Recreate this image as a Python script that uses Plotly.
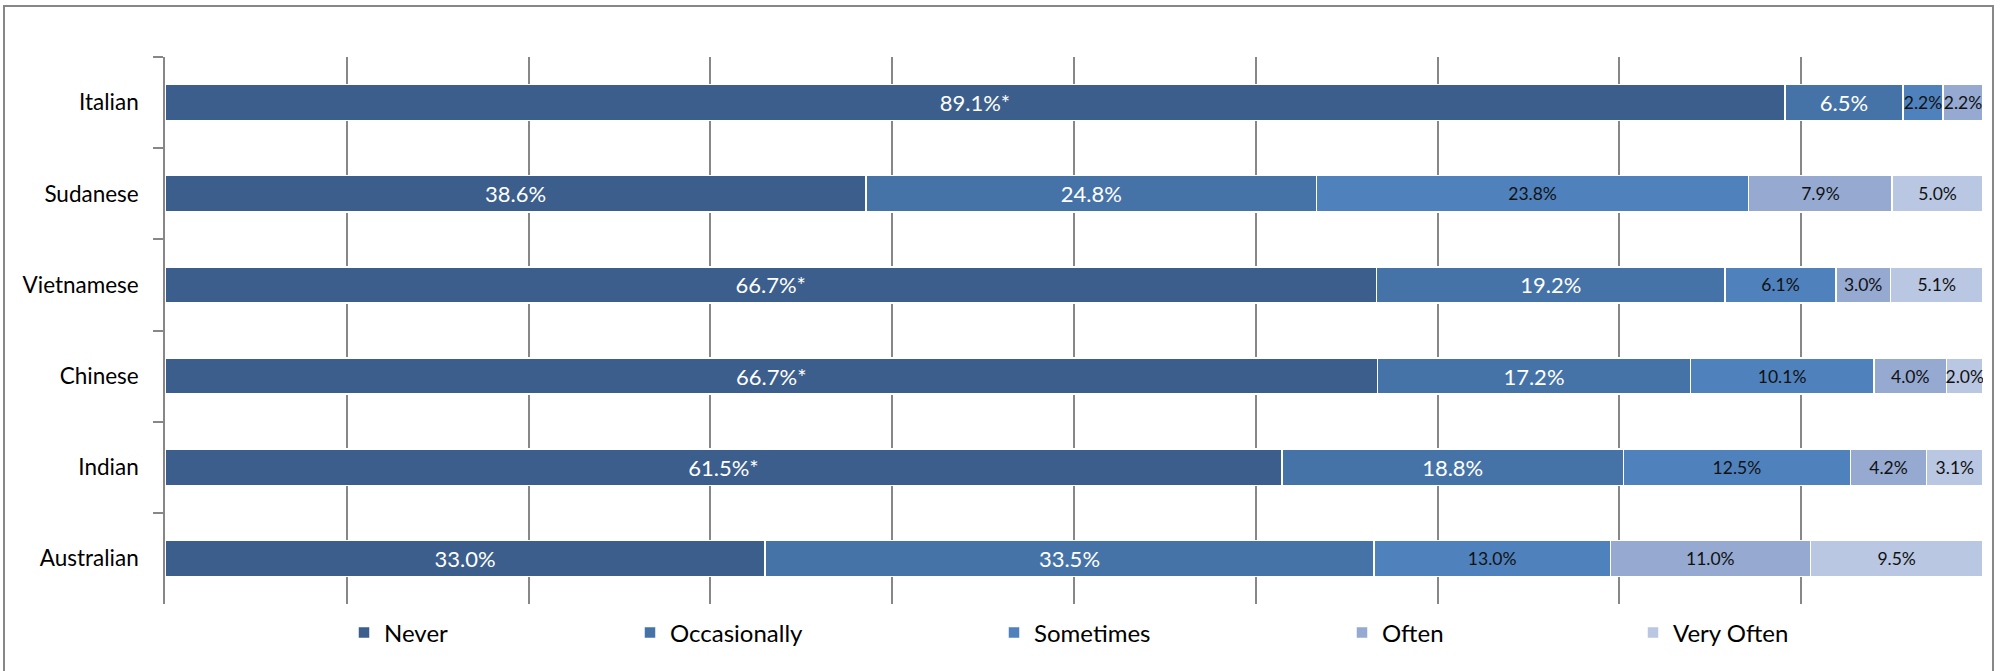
import plotly.graph_objects as go

# ---------------- data ----------------
groups = ["Italian", "Sudanese", "Vietnamese", "Chinese", "Indian", "Australian"]
series_names = ["Never", "Occasionally", "Sometimes", "Often", "Very Often"]
never = [89.1, 38.6, 66.7, 66.7, 61.5, 33.0]
occasionally = [6.5, 24.8, 19.2, 17.2, 18.8, 33.5]
sometimes = [2.2, 23.8, 6.1, 10.1, 12.5, 13.0]
often = [2.2, 7.9, 3.0, 4.0, 4.2, 11.0]
very_often = [0.0, 5.0, 5.1, 2.0, 3.1, 9.5]
never_significant = [True, False, True, True, True, False]  # "*" marks

# ---------------- styles ----------------
W, H = 2001, 671
L, R, T, B = 165, 18, 57, 67
pw, ph = W - L - R, H - T - B

colors = ["#3b5e8c", "#4573a8", "#4f81bd", "#95a9d1", "#b9c7e2"]
text_colors = ["white", "white", "#111111", "#111111", "#111111"]
text_sizes = [22, 22, 17.5, 17.5, 17.5]
legend_text_px = [384, 670, 1034, 1382, 1673]
FONT = "Lato, 'Open Sans', sans-serif"
GRID = "#878787"


def px_x(p):
    return (p - L) / pw


def px_y(p):
    return (H - B - p) / ph


series_values = [never, occasionally, sometimes, often, very_often]

fig = go.Figure()
for i, (name, vals) in enumerate(zip(series_names, series_values)):
    if i == 0:
        texts = [f"{v:.1f}%" + ("*" if s else "") for v, s in zip(vals, never_significant)]
    else:
        texts = [f"{v:.1f}%" if v > 0 else "" for v in vals]
    fig.add_trace(go.Bar(
        y=groups, x=vals, orientation="h", name=name,
        marker=dict(color=colors[i], line=dict(color="white", width=1.5)),
        text=texts, textposition="inside", insidetextanchor="middle",
        textangle=0, constraintext="none",
        textfont=dict(color=text_colors[i], size=text_sizes[i], family=FONT),
        hoverinfo="skip", showlegend=True,
        legend="legend" if i == 0 else f"legend{i + 1}",
    ))

layout = dict(
    width=W, height=H, autosize=False, showlegend=True,
    margin=dict(l=L, r=R, t=T, b=B, pad=0),
    paper_bgcolor="white", plot_bgcolor="white",
    barmode="stack", barnorm="percent", bargap=0.605,
    font=dict(family=FONT, color="black"),
    xaxis=dict(range=[0, 100], dtick=10, showgrid=True, gridcolor=GRID, gridwidth=1.5,
               showticklabels=False, zeroline=False, showline=False, ticks=""),
    yaxis=dict(autorange="reversed", showline=True, linecolor=GRID, linewidth=1.5,
               ticks="outside", ticklen=10, tickwidth=1.5, tickcolor=GRID,
               tickson="boundaries", tickfont=dict(size=22.5, family=FONT, color="black"),
               ticklabelstandoff=20, showgrid=False),
    shapes=[dict(type="rect", xref="paper", yref="paper",
                 x0=px_x(4), x1=px_x(1993), y0=px_y(720), y1=px_y(6),
                 line=dict(color=GRID, width=2), fillcolor="rgba(0,0,0,0)", layer="below")],
)
for i, tx in enumerate(legend_text_px):
    key = "legend" if i == 0 else f"legend{i + 1}"
    layout[key] = dict(x=px_x(tx - 40), xanchor="left", y=px_y(633), yanchor="middle",
                       orientation="h", bgcolor="rgba(0,0,0,0)", borderwidth=0,
                       visible=True,
                       font=dict(size=24, family=FONT, color="black"))

fig.update_layout(**layout)
fig.write_html("out.html", config={"displayModeBar": False})
